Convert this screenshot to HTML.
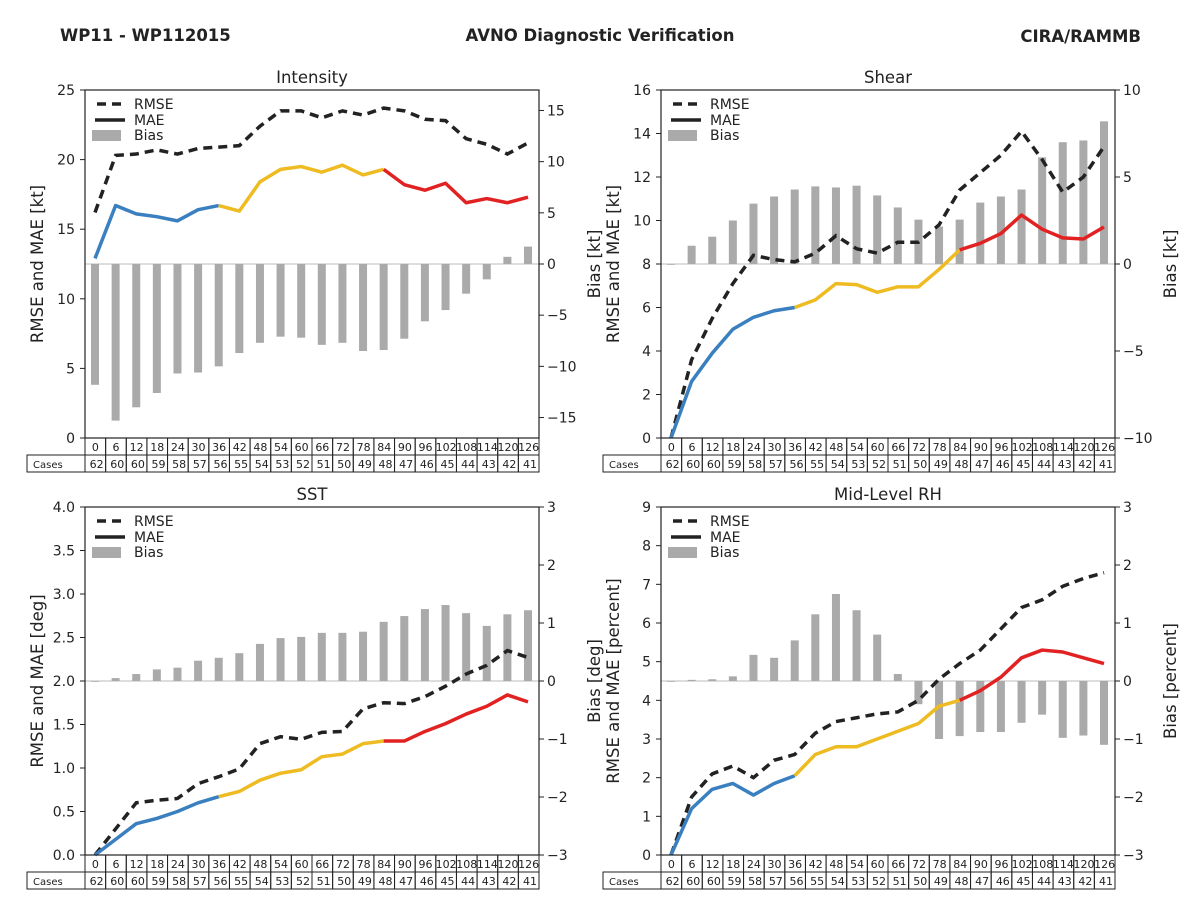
<!DOCTYPE html>
<html><head><meta charset="utf-8"><style>
body{margin:0;background:#fff;width:1200px;height:900px;overflow:hidden;font-family:"Liberation Sans","DejaVu Sans",sans-serif}
svg text{font-family:"DejaVu Sans","Liberation Sans",sans-serif;fill:#222}
</style></head><body>
<svg id="c" width="1200" height="900">
<text x="60" y="41" font-size="16.5" font-weight="bold">WP11 - WP112015</text>
<text x="600" y="41" font-size="16.5" font-weight="bold" text-anchor="middle">AVNO Diagnostic Verification</text>
<text x="1141" y="42" font-size="16.5" font-weight="bold" text-anchor="end">CIRA/RAMMB</text>
</svg>
<script>
const hours=[0,6,12,18,24,30,36,42,48,54,60,66,72,78,84,90,96,102,108,114,120,126];
const cases=[62,60,60,59,58,57,56,55,54,53,52,51,50,49,48,47,46,45,44,43,42,41];
const intRmse=[16.2,20.3,20.4,20.7,20.4,20.8,20.9,21.0,22.4,23.5,23.5,23.0,23.5,23.2,23.7,23.5,22.9,22.8,21.5,21.1,20.4,21.2];
const intMae=[12.9,16.7,16.1,15.9,15.6,16.4,16.7,16.3,18.4,19.3,19.5,19.1,19.6,18.9,19.3,18.2,17.8,18.3,16.9,17.2,16.9,17.3];
const intBias=[-11.8,-15.3,-14.0,-12.6,-10.7,-10.6,-10.0,-8.7,-7.7,-7.1,-7.2,-7.9,-7.7,-8.5,-8.4,-7.3,-5.6,-4.5,-2.9,-1.5,0.7,1.7];
const shrRmse=[0,3.6,5.5,7.1,8.4,8.2,8.1,8.5,9.3,8.7,8.5,9.0,9.0,9.8,11.4,12.2,13.0,14.1,12.8,11.3,12.0,13.4];
const shrMae=[0,2.6,3.9,5.0,5.55,5.85,6.0,6.35,7.1,7.05,6.7,6.95,6.95,7.75,8.65,8.95,9.4,10.25,9.6,9.2,9.15,9.7];
const shrBias=[0,1.05,1.57,2.5,3.47,3.88,4.28,4.46,4.4,4.5,3.94,3.25,2.55,2.15,2.55,3.53,3.88,4.28,6.13,7.0,7.1,8.2];
const sstRmse=[0,0.3,0.6,0.63,0.65,0.82,0.9,0.99,1.28,1.36,1.33,1.41,1.42,1.68,1.75,1.74,1.82,1.94,2.08,2.18,2.35,2.27];
const sstMae=[0,0.18,0.36,0.42,0.5,0.6,0.67,0.73,0.86,0.94,0.98,1.13,1.16,1.28,1.31,1.31,1.42,1.51,1.62,1.71,1.84,1.76];
const sstBias=[0,0.05,0.12,0.2,0.23,0.35,0.4,0.48,0.64,0.74,0.76,0.83,0.83,0.85,1.02,1.12,1.24,1.31,1.17,0.95,1.15,1.22];
const rhRmse=[0,1.5,2.1,2.3,2.0,2.45,2.6,3.15,3.45,3.55,3.65,3.7,4.0,4.55,4.95,5.3,5.85,6.4,6.6,6.95,7.15,7.3];
const rhMae=[0,1.2,1.7,1.85,1.55,1.85,2.05,2.6,2.8,2.8,3.0,3.2,3.4,3.85,4.0,4.25,4.6,5.1,5.3,5.25,5.1,4.95];
const rhBias=[0,0.02,0.03,0.08,0.45,0.4,0.7,1.15,1.5,1.22,0.8,0.12,-0.4,-1.0,-0.95,-0.88,-0.88,-0.72,-0.58,-0.98,-0.94,-1.1];
const intLeftTicks=[0,5,10,15,20,25];const intRightTicks=[-15,-10,-5,0,5,10,15];
const shrLeftTicks=[0,2,4,6,8,10,12,14,16];const shrRightTicks=[-10,-5,0,5,10];
const sstLeftTicks=[0,0.5,1,1.5,2,2.5,3,3.5,4];const sstRightTicks=[-3,-2,-1,0,1,2,3];
const rhLeftTicks=[0,1,2,3,4,5,6,7,8,9];const rhRightTicks=[-3,-2,-1,0,1,2,3];

const NS='http://www.w3.org/2000/svg';const svg=document.getElementById('c');
function mk(tag,attrs,parent,txt){const e=document.createElementNS(NS,tag);for(const k in attrs)e.setAttribute(k,attrs[k]);if(txt!==undefined)e.textContent=txt;(parent||svg).appendChild(e);return e;}
function fmt(v,dec){const s=Math.abs(v).toFixed(dec);return v<0?'\u2212'+s:s;}
function panel(o){
  const g=mk('g',{});
  
  
  const L=o.x0,R=o.x0+454,T=o.y0,B=o.y0+348;
  const x=i=>L+10+i*(433/21);
  const yl=v=>B-(v-o.lmin)/(o.lmax-o.lmin)*(B-T);
  const yr=v=>B-(v-o.rmin)/(o.rmax-o.rmin)*(B-T);
  const z=mk('line',{x1:L,x2:R,y1:yr(0),y2:yr(0),stroke:'#bbb','stroke-width':1},g);
  
  
  o.bias.forEach((v,i)=>{const y0=yr(0),y1=yr(v);
    const b=mk('rect',{x:x(i)-4,y:Math.min(y0,y1),width:8,height:Math.max(Math.abs(y1-y0),0.8),fill:'#aaaaaa'},g);
    
    });
  const rp=o.rmse.map((v,i)=>x(i)+','+yl(v)).join(' ');
  const r=mk('polyline',{points:rp,fill:'none',stroke:'#222','stroke-width':3.5,'stroke-dasharray':'9,6'},g);
  
  
  const segs=[[0,6,'#3a7fbf','mae-line-early'],[6,14,'#eebb22','mae-line-mid'],[14,21,'#e22222','mae-line-late']];
  segs.forEach(s=>{const pts=[];for(let i=s[0];i<=s[1];i++)pts.push(x(i)+','+yl(o.mae[i]));
    const m=mk('polyline',{points:pts.join(' '),fill:'none',stroke:s[2],'stroke-width':3.5,'stroke-linejoin':'round'},g);
    
    });
  const f=mk('rect',{x:L,y:T,width:454,height:348,fill:'none',stroke:'#222','stroke-width':1.2},g);
  
  
  o.lt.forEach(v=>{const y=yl(v);mk('line',{x1:L-5,x2:L,y1:y,y2:y,stroke:'#222'},g);
    const t=mk('text',{x:L-10,y:y+5,'font-size':14,'text-anchor':'end'},g,v.toFixed(o.ldec));
    
    });
  o.rt.forEach(v=>{const y=yr(v);mk('line',{x1:R,x2:R+5,y1:y,y2:y,stroke:'#222'},g);
    const t=mk('text',{x:R+8,y:y+5,'font-size':14},g,fmt(v,0));
    
    });
  const tt=mk('text',{x:(L+R)/2,y:T-7,'font-size':16.5,'text-anchor':'middle'},g,o.title);
  
  
  const ly=mk('text',{transform:`translate(${L-42},${(T+B)/2}) rotate(-90)`,'font-size':16.5,'text-anchor':'middle'},g,o.lab);
  
  
  const ry=mk('text',{transform:`translate(${R+61},${(T+B)/2}) rotate(-90)`,'font-size':16.5,'text-anchor':'middle'},g,o.rlab);
  
  
  const lg=mk('g',{},g);
  
  
  mk('line',{x1:L+12,x2:L+42,y1:T+14,y2:T+14,stroke:'#222','stroke-width':3.5,'stroke-dasharray':'9,6'},lg);
  mk('line',{x1:L+10,x2:L+40,y1:T+30,y2:T+30,stroke:'#222','stroke-width':3.5},lg);
  mk('rect',{x:L+7,y:T+40,width:29,height:11,fill:'#aaa'},lg);
  [['RMSE',19],['MAE',35],['Bias',50]].forEach(a=>{const t=mk('text',{x:L+49,y:T+a[1],'font-size':14},lg,a[0]);
    
    });
  const tb=mk('g',{},g);
  
  
  const cw=454/22;
  mk('rect',{x:L-58,y:B+17,width:58,height:17,fill:'none',stroke:'#222'},tb);
  mk('text',{x:L-52,y:B+30,'font-size':10},tb,'Cases');
  hours.forEach((h,i)=>{const cx=L+i*cw;
    mk('rect',{x:cx,y:B,width:cw,height:17,fill:'none',stroke:'#222'},tb);
    mk('rect',{x:cx,y:B+17,width:cw,height:17,fill:'none',stroke:'#222'},tb);
    mk('text',{x:cx+cw/2,y:B+13,'font-size':11,'text-anchor':'middle'},tb,h);
    mk('text',{x:cx+cw-2,y:B+30,'font-size':11,'text-anchor':'end'},tb,cases[i]);});
}
panel({name:'intensity',x0:85,y0:90,lmin:0,lmax:25,rmin:-17,rmax:17,lt:intLeftTicks,rt:intRightTicks,ldec:0,rmse:intRmse,mae:intMae,bias:intBias,title:'Intensity',lab:'RMSE and MAE [kt]',rlab:'Bias [kt]'});
panel({name:'shear',x0:661,y0:90,lmin:0,lmax:16,rmin:-10,rmax:10,lt:shrLeftTicks,rt:shrRightTicks,ldec:0,rmse:shrRmse,mae:shrMae,bias:shrBias,title:'Shear',lab:'RMSE and MAE [kt]',rlab:'Bias [kt]'});
panel({name:'sst',x0:85,y0:507,lmin:0,lmax:4,rmin:-3,rmax:3,lt:sstLeftTicks,rt:sstRightTicks,ldec:1,rmse:sstRmse,mae:sstMae,bias:sstBias,title:'SST',lab:'RMSE and MAE [deg]',rlab:'Bias [deg]'});
panel({name:'mid-level-rh',x0:661,y0:507,lmin:0,lmax:9,rmin:-3,rmax:3,lt:rhLeftTicks,rt:rhRightTicks,ldec:0,rmse:rhRmse,mae:rhMae,bias:rhBias,title:'Mid-Level RH',lab:'RMSE and MAE [percent]',rlab:'Bias [percent]'});
</script>
</body></html>
